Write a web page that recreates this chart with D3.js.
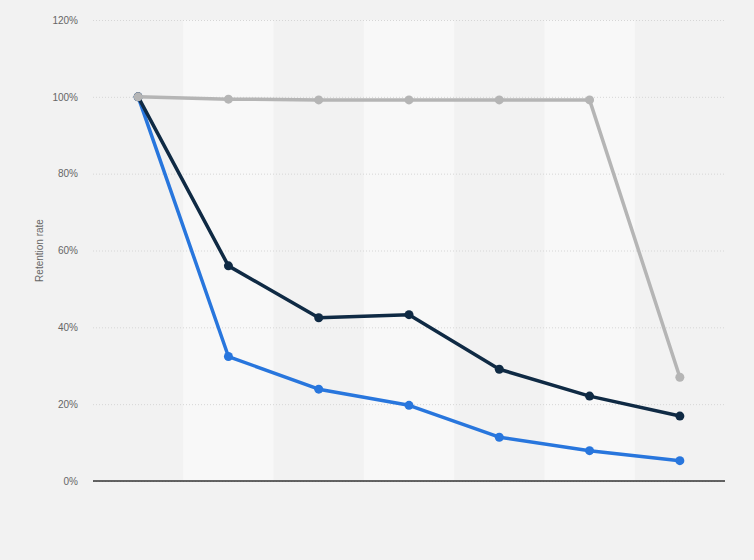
<!DOCTYPE html>
<html>
<head>
<meta charset="utf-8">
<script src="https://cdn.jsdelivr.net/npm/d3@7"></script>
<style>
  body { margin: 0; background: #f2f2f2; }
  svg { display: block; font-family: "Liberation Sans", Arial, sans-serif; }
</style>
</head>
<body>
<div id="wrapper"></div>
<script>
// categories have no visible labels in the picture
const categories = ["c1", "c2", "c3", "c4", "c5", "c6", "c7"]
const grayValues = [100, 99.4, 99.2, 99.2, 99.2, 99.2, 27]
const navyValues = [100, 56, 42.5, 43.3, 29.1, 22.1, 16.9]
const blueValues = [100, 32.4, 23.9, 19.7, 11.4, 7.9, 5.3]
const yTicks = [0, 20, 40, 60, 80, 100, 120]

// drawn bottom to top
const series = [
    {name: "blue", values: blueValues, color: "#2876dd"},
    {name: "navy", values: navyValues, color: "#0f2a44"},
    {name: "gray", values: grayValues, color: "#b5b5b5"}
]

var dimension = {
    width: 754,
    height: 560,
    margin: {top: 20, left: 93, right: 29, bottom: 79}
}
dimension.boundedWidth = dimension.width - dimension.margin.left - dimension.margin.right
dimension.boundedHeight = dimension.height - dimension.margin.top - dimension.margin.bottom

const wrapper = d3.select("#wrapper")
    .append("svg")
    .attr("width", dimension.width)
    .attr("height", dimension.height)

wrapper.append("rect")
    .attr("width", dimension.width)
    .attr("height", dimension.height)
    .attr("fill", "#f2f2f2")

const bounds = wrapper.append("g")
    .attr("transform", `translate(${dimension.margin.left},${dimension.margin.top})`)

const x = d3.scaleBand()
    .domain(categories)
    .range([0, dimension.boundedWidth])

const y = d3.scaleLinear()
    .domain([0, 120])
    .range([dimension.boundedHeight, 0])

// alternating column bands
bounds.selectAll("rect.band")
    .data(categories.filter((d, i) => i % 2 == 1))
    .enter()
    .append("rect")
    .attr("class", "band")
    .attr("x", d => x(d))
    .attr("y", 0)
    .attr("width", x.bandwidth())
    .attr("height", dimension.boundedHeight)
    .attr("fill", "#f8f8f8")

// grid + y labels
const yAxis = bounds.append("g")
    .call(d3.axisLeft(y).tickValues(yTicks).tickSize(-dimension.boundedWidth).tickFormat(d => d + "%").tickPadding(15))
yAxis.select(".domain").remove()
yAxis.selectAll(".tick line")
    .attr("stroke", "#d6d6d6")
    .attr("stroke-dasharray", "1,2")
yAxis.selectAll(".tick text")
    .attr("fill", "#666")
    .style("font-size", "10px")

bounds.append("line")
    .attr("x1", 0)
    .attr("x2", dimension.boundedWidth)
    .attr("y1", y(0))
    .attr("y2", y(0))
    .attr("stroke", "#333")
    .attr("stroke-width", 1.5)

wrapper.append("text")
    .attr("transform", `translate(43,${dimension.margin.top + y(60)}) rotate(-90)`)
    .attr("text-anchor", "middle")
    .attr("fill", "#666")
    .style("font-size", "10px")
    .text("Retention rate")

const line = d3.line()
    .x((d, i) => x(categories[i]) + x.bandwidth() / 2)
    .y(d => y(d))

series.forEach(s => {
    bounds.append("path")
        .datum(s.values)
        .attr("d", line)
        .attr("fill", "none")
        .attr("stroke", s.color)
        .attr("stroke-width", 3.5)
        .attr("stroke-linejoin", "round")

    bounds.selectAll("circle." + s.name)
        .data(s.values)
        .enter()
        .append("circle")
        .attr("class", s.name)
        .attr("cx", (d, i) => x(categories[i]) + x.bandwidth() / 2)
        .attr("cy", d => y(d))
        .attr("r", 4.5)
        .attr("fill", s.color)
})
</script>
</body>
</html>
